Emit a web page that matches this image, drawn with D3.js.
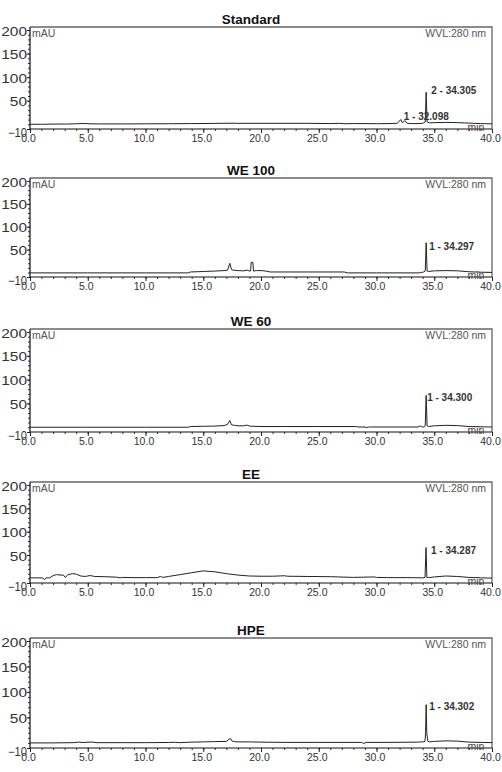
<!DOCTYPE html>
<html>
<head>
<meta charset="utf-8">
<script src="https://cdn.jsdelivr.net/npm/d3@7"></script>
<style>
  body { margin: 0; background: #fff; }
  svg { display: block; font-family: 'Liberation Sans', Arial, sans-serif; }
</style>
</head>
<body>
<script>
// HPLC chromatograms at 280 nm, mAU vs retention time (min)
const titles = ['Standard', 'WE 100', 'WE 60', 'EE', 'HPE'];
const xTicks = [0, 5, 10, 15, 20, 25, 30, 35, 40];
const yTicks = [200, 150, 100, 50, -10];

const stdTime = [0, 1, 2, 3, 4, 4.6, 5.2, 6, 8, 10, 12, 14, 16, 17.5, 18, 20, 22, 24, 26, 26.8, 27.2, 28, 29, 30, 31, 31.8, 32.1, 32.25, 32.45, 32.65, 33, 33.5, 34.0, 34.22, 34.3, 34.38, 34.6, 35, 36, 37, 38, 39, 40];
const stdMAU = [0, 0, 0.5, 0.5, 1, 1.8, 1, 0.8, 0.8, 1, 1.2, 1.5, 1.8, 2.3, 2, 2, 2, 2, 1.5, 2, 1.2, 1.5, 1.5, 1.2, 1.5, 2, 10, 3, 8, 2, 1.5, 1.5, 2, 5, 68, 5, 3, 3.5, 4, 3.5, 2.5, 1.5, 1];
const stdPeakLabel = ['1 - 32.098', '2 - 34.305'];
const stdPeakTime = [32.098, 34.305];
const stdPeakMAU = [10, 68];

const we100Time = [0, 5, 10, 13.7, 13.9, 15, 16, 16.8, 17.1, 17.3, 17.45, 17.6, 18, 18.5, 18.8, 19.0, 19.1, 19.15, 19.3, 19.35, 19.6, 20, 20.4, 20.8, 22, 25, 27.2, 27.5, 30, 33.7, 33.9, 34.1, 34.22, 34.3, 34.38, 34.5, 35, 36, 37, 38, 39, 40];
const we100MAU = [-1, -1, -1, -1, 1, 2, 3, 4, 5, 20, 6, 5, 4, 3.5, 5, 3, 3, 22, 22, 3, 4, 4, 3, 1, 1, 1, 1, -1, -1, -1, 0, 1, 3, 65, 3, 2, 3.5, 4, 3.5, 1.5, 0.5, 0];
const we100PeakLabel = ['1 - 34.297'];
const we100PeakTime = [34.297];
const we100PeakMAU = [65];

const we60Time = [0, 5, 10, 13.7, 13.9, 15, 16, 16.8, 17.1, 17.3, 17.45, 17.7, 18, 18.5, 18.8, 19.0, 19.3, 20, 22, 25, 28.2, 28.4, 29, 29.1, 29.3, 31, 33.6, 33.8, 33.9, 34.1, 34.22, 34.3, 34.38, 34.5, 35, 36, 37, 38, 40];
const we60MAU = [0, 0, 0, 0, 1.5, 2, 2.5, 3.5, 6, 14, 5, 4, 3, 3, 4.5, 2.5, 2, 1.5, 1.5, 1.5, 1.5, 0.5, 0.5, -1, 0.5, 0.5, 0.5, 3, 0.5, 1, 3, 67, 3, 1.5, 3, 4, 3.5, 1.5, 0.5];
const we60PeakLabel = ['1 - 34.300'];
const we60PeakTime = [34.3];
const we60PeakMAU = [67];

const eeTime = [0, 0.5, 1.1, 1.25, 1.4, 1.7, 2.0, 2.3, 2.6, 2.9, 3.05, 3.3, 3.7, 4.0, 4.4, 4.8, 5.2, 5.6, 6.5, 7.5, 7.8, 8, 9, 10, 11, 11.3, 11.5, 12, 13, 14, 15, 16, 17, 18, 19, 20, 21, 22, 22.3, 24, 26, 28, 29.8, 30, 31, 33, 34.0, 34.2, 34.29, 34.36, 34.5, 35, 36, 37, 38, 39, 40];
const eeMAU = [1, 1, 1, -3, 1, 1, 6, 8, 7, 7, 2, 8, 10, 9, 5, 4, 6, 4, 3.5, 2.5, 1, 2, 1.5, 1.5, 1.5, 4, 2, 4, 8, 12, 16, 14, 10, 7, 5, 4.5, 4.5, 5.5, 4.5, 4, 3.5, 2, 3, 2, 1.5, 1.5, 1, 2, 66, 2, 1.5, 3, 5, 4, 2, 1, 0.5];
const eePeakLabel = ['1 - 34.287'];
const eePeakTime = [34.287];
const eePeakMAU = [66];

const hpeTime = [0, 2, 3.8, 4.2, 4.6, 5.1, 5.4, 5.8, 8, 10, 12, 12.5, 13, 14, 15, 16, 17, 17.35, 17.5, 17.7, 18, 19, 20, 22, 25, 28.7, 28.9, 29.1, 31, 33.5, 34, 34.2, 34.25, 34.3, 34.35, 34.45, 34.6, 35, 36, 37, 38, 40];
const hpeMAU = [0, 0, 0.5, 1.5, 0.8, 1.5, 1.5, 0.5, 0.5, 0.5, 0.8, 1.2, 0.5, 1.5, 2, 2.5, 3, 9, 3.5, 2.5, 2, 2, 1.5, 1, 1, 1, -1, 1, 1, 1.5, 2, 3, 20, 75, 20, 3, 2, 3, 4, 3.5, 1.5, 0.5];
const hpePeakLabel = ['1 - 34.302'];
const hpePeakTime = [34.302];
const hpePeakMAU = [75];

const traces = [
  { time: stdTime, mau: stdMAU, lab: stdPeakLabel, pt: stdPeakTime, pv: stdPeakMAU },
  { time: we100Time, mau: we100MAU, lab: we100PeakLabel, pt: we100PeakTime, pv: we100PeakMAU },
  { time: we60Time, mau: we60MAU, lab: we60PeakLabel, pt: we60PeakTime, pv: we60PeakMAU },
  { time: eeTime, mau: eeMAU, lab: eePeakLabel, pt: eePeakTime, pv: eePeakMAU },
  { time: hpeTime, mau: hpeMAU, lab: hpePeakLabel, pt: hpePeakTime, pv: hpePeakMAU }
];

// layout
const width = 502;
const height = 772;
const left = 30;
const right = 492;
const frameTop = [27, 178, 329, 482, 638];
const axisY = [129, 277, 432, 583, 748];
const labelDy = [[0, 2], [7], [6], [6], [5]];
const labelDx = [[3, 5], [3], [1], [5], [3]];

const svg = d3.select('body').append('svg').attr('width', width).attr('height', height);

const x = d3.scaleLinear().domain([0, 40]).range([left, right]);

traces.forEach((tr, i) => {
  const top = frameTop[i];
  const bottom = axisY[i];
  const y = d3.scaleLinear().domain([-10, 200]).range([bottom, top + 3]);
  const g = svg.append('g');

  // title
  g.append('text')
    .attr('x', 251).attr('y', top - 3)
    .attr('text-anchor', 'middle')
    .attr('font-size', '13.5px').attr('font-weight', 'bold').attr('fill', '#111')
    .text(titles[i]);

  // frame (top + right in grey)
  g.append('path')
    .attr('d', `M${left},${top}H${right}V${bottom}`)
    .attr('fill', 'none').attr('stroke', '#666').attr('stroke-width', 1.3);

  // minor ticks
  g.append('g')
    .attr('transform', `translate(${left},0)`)
    .call(d3.axisLeft(y).tickValues(d3.range(-10, 201, 10)).tickSize(2).tickFormat(''))
    .call(a => a.select('.domain').remove())
    .call(a => a.selectAll('line').attr('stroke', '#333'));
  g.append('g')
    .attr('transform', `translate(0,${bottom})`)
    .call(d3.axisBottom(x).tickValues(d3.range(0, 41, 1)).tickSize(2).tickFormat(''))
    .call(a => a.select('.domain').remove())
    .call(a => a.selectAll('line').attr('stroke', '#333'));

  // y axis
  const ya = g.append('g')
    .attr('transform', `translate(${left},0)`)
    .call(d3.axisLeft(y).tickValues(yTicks).tickSize(3).tickPadding(0).tickFormat(d3.format('d')))
    .call(a => a.select('.domain').remove());
  ya.selectAll('line').attr('stroke', '#222');
  ya.selectAll('text')
    .attr('font-size', '12px').attr('fill', '#333')
    .attr('font-family', "'Liberation Sans', Arial, sans-serif")
    .attr('dy', d => d === -10 ? '0.6em' : '0.42em')
    .attr('textLength', d => d === -10 ? 19 : String(d).length * 8.6)
    .attr('lengthAdjust', 'spacingAndGlyphs');

  // x axis
  const xa = g.append('g')
    .attr('transform', `translate(0,${bottom})`)
    .call(d3.axisBottom(x).tickValues(xTicks).tickSize(4).tickPadding(2).tickFormat(d3.format('.1f')))
    .call(a => a.select('.domain').remove());
  xa.selectAll('line').attr('stroke', '#222');
  xa.selectAll('text')
    .attr('font-size', '10.5px').attr('fill', '#333')
    .attr('font-family', "'Liberation Sans', Arial, sans-serif")
    .attr('dx', '-2');

  // axis lines
  g.append('path')
    .attr('d', `M${left},${top}V${bottom}H${right}`)
    .attr('fill', 'none').attr('stroke', '#111').attr('stroke-width', 1.2);

  // units
  g.append('text')
    .attr('x', left + 2).attr('y', top + 10)
    .attr('font-size', '10.5px').attr('fill', '#555')
    .text('mAU');
  g.append('text')
    .attr('x', right - 6).attr('y', top + 10)
    .attr('text-anchor', 'end')
    .attr('font-size', '10.5px').attr('fill', '#555')
    .text('WVL:280 nm');
  g.append('text')
    .attr('x', 476).attr('y', bottom + 2)
    .attr('text-anchor', 'middle')
    .attr('font-size', '10.5px').attr('fill', '#444')
    .text('min');

  // trace
  const pts = tr.time.map((t, k) => [t, tr.mau[k]]);
  g.append('path')
    .datum(pts)
    .attr('fill', 'none').attr('stroke', '#222').attr('stroke-width', 1)
    .attr('d', d3.line().x(d => x(d[0])).y(d => y(d[1])));

  // peak labels
  tr.lab.forEach((s, k) => {
    g.append('text')
      .attr('x', x(tr.pt[k]) + labelDx[i][k])
      .attr('y', y(tr.pv[k]) + labelDy[i][k])
      .attr('font-size', '10px').attr('font-weight', 'bold').attr('fill', '#333')
      .text(s);
  });
});
</script>
</body>
</html>
